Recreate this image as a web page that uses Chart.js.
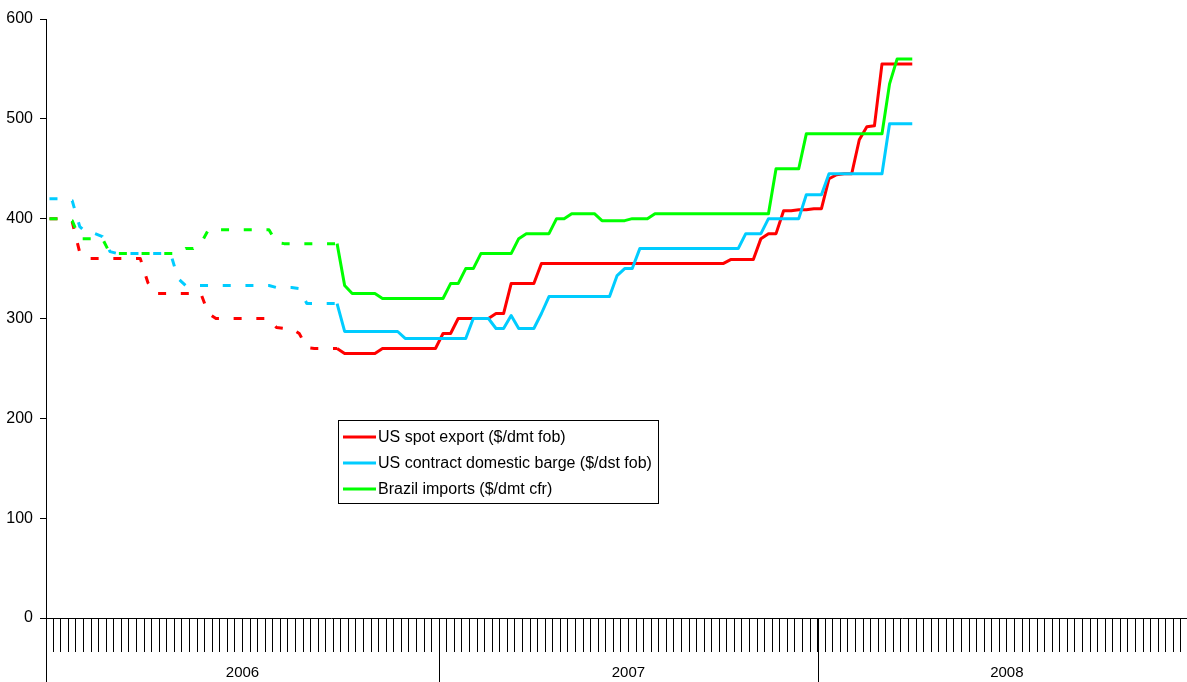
<!DOCTYPE html>
<html>
<head>
<meta charset="utf-8">
<title>Iron ore prices 2006-2008</title>
<script src="https://cdn.jsdelivr.net/npm/chart.js@4.4.1/dist/chart.umd.min.js"></script>
<style>
  html, body { margin: 0; padding: 0; background: #fff; }
  canvas { display: block; }
</style>
</head>
<body>
<canvas id="chart" width="1187" height="682"></canvas>
<script>
// Year groups on the week axis
const yearLabels = ['2006', '2007', '2008'];
const weeksPerYear = [52, 50, 50];

// Value axis ticks
const valueTicks = [0, 100, 200, 300, 400, 500, 600];

const seriesNames = [
  'US spot export ($/dmt fob)',
  'US contract domestic barge ($/dst fob)',
  'Brazil imports ($/dmt cfr)'
];

// Weekly prices, one value per week from the first week of 2006
const usSpotExport = [
  400, 400, 400, 397, 366, 360, 360, 360, 360, 360,
  360, 360, 360, 336, 325, 325, 325, 325, 325, 325,
  325, 305, 300, 300, 300, 300, 300, 300, 300, 300,
  291, 290, 290, 285, 271, 270, 270, 270, 270, 265,
  265, 265, 265, 265, 270, 270, 270, 270, 270, 270,
  270, 270, 285, 285, 300, 300, 300, 300, 300, 305,
  305, 335, 335, 335, 335, 355, 355, 355, 355, 355,
  355, 355, 355, 355, 355, 355, 355, 355, 355, 355,
  355, 355, 355, 355, 355, 355, 355, 355, 355, 355,
  359, 359, 359, 359, 380, 385, 385, 408, 408, 409,
  409, 410, 410, 440, 444, 445, 445, 479, 492, 493,
  555, 555, 555, 555, 555
];

const usContractBarge = [
  420, 420, 420, 418, 392, 385, 385, 382, 367, 365,
  365, 365, 365, 365, 365, 365, 365, 340, 333, 333,
  333, 333, 333, 333, 333, 333, 333, 333, 333, 333,
  331, 331, 331, 330, 315, 315, 315, 315, 315, 287,
  287, 287, 287, 287, 287, 287, 287, 280, 280, 280,
  280, 280, 280, 280, 280, 280, 300, 300, 300, 290,
  290, 303, 290, 290, 290, 305, 322, 322, 322, 322,
  322, 322, 322, 322, 322, 343, 350, 350, 370, 370,
  370, 370, 370, 370, 370, 370, 370, 370, 370, 370,
  370, 370, 385, 385, 385, 400, 400, 400, 400, 400,
  424, 424, 424, 445, 445, 445, 445, 445, 445, 445,
  445, 495, 495, 495, 495
];

const brazilImports = [
  400, 400, 400, 398, 380, 380, 380, 380, 365, 365,
  365, 365, 365, 365, 365, 365, 365, 365, 370, 370,
  375, 389, 389, 389, 389, 389, 389, 389, 389, 389,
  376, 375, 375, 375, 375, 375, 375, 375, 375, 333,
  325, 325, 325, 325, 320, 320, 320, 320, 320, 320,
  320, 320, 320, 335, 335, 350, 350, 365, 365, 365,
  365, 365, 380, 385, 385, 385, 385, 400, 400, 405,
  405, 405, 405, 398, 398, 398, 398, 400, 400, 400,
  405, 405, 405, 405, 405, 405, 405, 405, 405, 405,
  405, 405, 405, 405, 405, 405, 450, 450, 450, 450,
  485, 485, 485, 485, 485, 485, 485, 485, 485, 485,
  485, 535, 560, 560, 560
];

const seriesColors = ['#FF0000', '#00CCFF', '#00FF00'];

// Weekly assessments begin at this week; earlier values are sparse and drawn dashed
const solidFromWeek = 38;

const FONT = '"Liberation Sans", Arial, Helvetica, sans-serif';

const toPoints = arr => arr.map((v, i) => ({ x: i, y: v }));

// Week boundaries where the year groups change
const yearEdges = [-0.5];
weeksPerYear.forEach(n => yearEdges.push(yearEdges[yearEdges.length - 1] + n));

function makeDataset(label, values, color, order) {
  return {
    label,
    data: toPoints(values),
    borderColor: color,
    backgroundColor: color,
    borderWidth: 3,
    pointRadius: 0,
    pointHoverRadius: 0,
    tension: 0,
    fill: false,
    borderJoinStyle: 'round',
    borderCapStyle: 'butt',
    order,
    segment: {
      borderDash: ctx => ctx.p0DataIndex < solidFromWeek ? [8, 14.7] : undefined
    }
  };
}

// Year separators, year labels and the boxed legend
const axisDecor = {
  id: 'axisDecor',
  afterDraw(chart) {
    const { ctx, chartArea, scales } = chart;
    const xs = scales.x;
    const h = chart.height;
    ctx.save();
    ctx.strokeStyle = '#000';
    ctx.lineWidth = 1;

    // value axis line continues through the label band
    const left = Math.round(chartArea.left) + 0.5;
    ctx.beginPath();
    ctx.moveTo(left, chartArea.bottom);
    ctx.lineTo(left, h);
    ctx.stroke();

    // separators between years
    for (let k = 1; k < yearEdges.length; k++) {
      const px = xs.getPixelForValue(yearEdges[k]);
      if (px > chartArea.right) continue;
      const x = Math.round(px) + 0.5;
      ctx.beginPath();
      ctx.moveTo(x, chartArea.bottom);
      ctx.lineTo(x, h);
      ctx.stroke();
    }

    // year labels centred on their group
    ctx.fillStyle = '#000';
    ctx.font = '15px ' + FONT;
    ctx.textAlign = 'center';
    ctx.textBaseline = 'middle';
    yearLabels.forEach((lab, k) => {
      const mid = (yearEdges[k] + yearEdges[k + 1]) / 2;
      ctx.fillText(lab, xs.getPixelForValue(mid), 673);
    });

    // legend
    const box = { x: 338.5, y: 420.5, w: 320, h: 83 };
    ctx.fillStyle = '#fff';
    ctx.fillRect(box.x, box.y, box.w, box.h);
    ctx.strokeStyle = '#000';
    ctx.strokeRect(box.x, box.y, box.w, box.h);
    ctx.font = '16px ' + FONT;
    ctx.textAlign = 'left';
    ctx.textBaseline = 'middle';
    chart.data.datasets.forEach((ds, k) => {
      const y = 437 + k * 26;
      ctx.strokeStyle = ds.borderColor;
      ctx.lineWidth = 3;
      ctx.beginPath();
      ctx.moveTo(343, y);
      ctx.lineTo(376, y);
      ctx.stroke();
      ctx.fillStyle = '#000';
      ctx.fillText(ds.label, 378, y + 1);
    });
    ctx.restore();
  }
};

new Chart(document.getElementById('chart'), {
  type: 'line',
  data: {
    datasets: [
      makeDataset(seriesNames[0], usSpotExport, seriesColors[0], 3),
      makeDataset(seriesNames[1], usContractBarge, seriesColors[1], 2),
      makeDataset(seriesNames[2], brazilImports, seriesColors[2], 1)
    ]
  },
  options: {
    responsive: false,
    animation: false,
    devicePixelRatio: 1,
    layout: { padding: { top: 19, left: 0, right: 0, bottom: 0 } },
    plugins: {
      legend: { display: false },
      tooltip: { enabled: false }
    },
    scales: {
      x: {
        type: 'linear',
        position: 'bottom',
        min: -0.46,
        max: 150.3,
        afterBuildTicks(scale) {
          const ticks = [];
          for (let w = 0.5; w < scale.max; w += 1) ticks.push({ value: w });
          scale.ticks = ticks;
        },
        afterFit(scale) { scale.height = 64; },
        ticks: { display: false },
        grid: {
          drawOnChartArea: false,
          drawTicks: true,
          tickLength: 34,
          color: '#000',
          lineWidth: 1
        },
        border: { display: true, color: '#000', width: 1 }
      },
      y: {
        type: 'linear',
        position: 'left',
        min: 0,
        max: 600,
        afterBuildTicks(scale) {
          scale.ticks = valueTicks.map(v => ({ value: v }));
        },
        afterFit(scale) { scale.width = 46; },
        ticks: {
          color: '#000',
          padding: 7,
          font: { size: 16, family: FONT }
        },
        grid: {
          drawOnChartArea: false,
          drawTicks: true,
          tickLength: 6,
          color: '#000',
          lineWidth: 1
        },
        border: { display: true, color: '#000', width: 1 }
      }
    }
  },
  plugins: [axisDecor]
});
</script>
</body>
</html>
